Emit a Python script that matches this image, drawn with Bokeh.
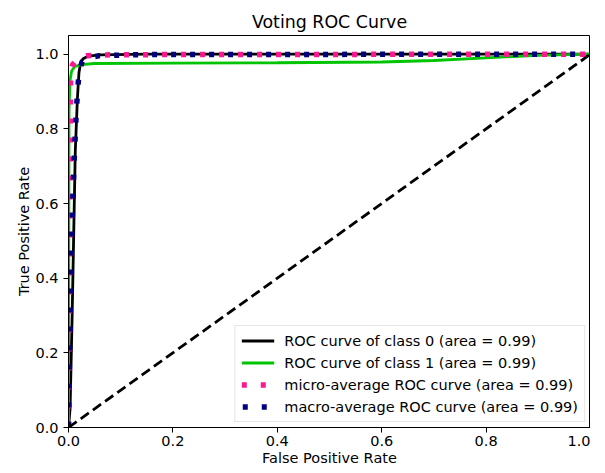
import numpy as np
from bokeh.plotting import figure
from bokeh.models import Range1d, FixedTicker, Legend, LegendItem
from bokeh.embed import file_html
from bokeh.resources import INLINE

# ---- data ----
class0_fpr = [0.0, 0.003, 0.007, 0.010, 0.013, 0.017, 0.020, 0.023, 0.028, 0.038, 0.06, 0.15, 1.0]
class0_tpr = [0.0, 0.05, 0.30, 0.52, 0.74, 0.88, 0.95, 0.975, 0.988, 0.995, 0.998, 1.0, 1.0]

class1_fpr = [0.0, 0.001, 0.003, 0.006, 0.012, 0.025, 0.05, 0.2, 0.4, 0.6, 0.7, 0.8, 0.9, 1.0]
class1_tpr = [0.0, 0.85, 0.93, 0.955, 0.967, 0.972, 0.975, 0.976, 0.977, 0.979, 0.983, 0.99, 0.997, 1.0]

micro_fpr = [0.0, 0.002, 0.004, 0.008, 0.014, 0.022, 0.035, 0.06, 0.2, 1.0]
micro_tpr = [0.0, 0.45, 0.955, 0.972, 0.982, 0.992, 0.996, 0.998, 0.999, 1.0]

macro_fpr = [0.0, 0.002, 0.005, 0.008, 0.011, 0.015, 0.019, 0.022, 0.026, 0.035, 0.06, 0.15, 1.0]
macro_tpr = [0.0, 0.20, 0.45, 0.60, 0.72, 0.85, 0.93, 0.96, 0.98, 0.99, 0.996, 0.999, 1.0]

chance_x = [0.0, 1.0]
chance_y = [0.0, 1.0]

labels = [
    "ROC curve of class 0 (area = 0.99)",
    "ROC curve of class 1 (area = 0.99)",
    "micro-average ROC curve (area = 0.99)",
    "macro-average ROC curve (area = 0.99)",
]

tick_values = [0.0, 0.2, 0.4, 0.6, 0.8, 1.0]
tick_labels = ["0.0", "0.2", "0.4", "0.6", "0.8", "1.0"]

FONT = "DejaVu Sans"
FW, FH = 522, 392
YMAX = 1.05

p = figure(
    frame_width=FW, frame_height=FH,
    output_backend="svg", toolbar_location=None,
    x_range=Range1d(0, 1.0), y_range=Range1d(0, YMAX),
    min_border_left=68, min_border_right=0,
    min_border_top=35, min_border_bottom=0,
    title="Voting ROC Curve",
)

p.title.align = "center"
p.title.text_font = FONT
p.title.text_font_size = "17.4px"
p.title.text_font_style = "normal"
p.title.text_color = "black"
p.title.standoff = 8

p.grid.visible = False
p.outline_line_color = "black"
p.outline_line_width = 1
p.background_fill_color = "white"
p.border_fill_color = "white"

for ax in (p.xaxis[0], p.yaxis[0]):
    ax.ticker = FixedTicker(ticks=tick_values)
    ax.major_label_overrides = {v: s for v, s in zip(tick_values, tick_labels)}
    ax.major_label_text_font = FONT
    ax.major_label_text_font_size = "14.5px"
    ax.major_label_text_color = "black"
    ax.axis_label_text_font = FONT
    ax.axis_label_text_font_size = "14.5px"
    ax.axis_label_text_font_style = "normal"
    ax.axis_label_text_color = "black"
    ax.major_tick_in = 0
    ax.major_tick_out = 5
    ax.minor_tick_in = 0
    ax.minor_tick_out = 0
    ax.axis_line_color = "black"
    ax.major_tick_line_color = "black"

p.xaxis.axis_label = "False Positive Rate"
p.yaxis.axis_label = "True Positive Rate"
p.xaxis.major_label_standoff = 3
p.yaxis.major_label_standoff = 5
p.xaxis.axis_label_standoff = 1
p.yaxis.axis_label_standoff = 0


def screen_length(xs, ys):
    sx = np.asarray(xs) * FW
    sy = np.asarray(ys) * FH / YMAX
    return float(np.hypot(np.diff(sx), np.diff(sy)).sum())


# put the navy dots half a period away from the pink ones (interleaved, as in the reference)
PERIOD = 19
diff = screen_length(macro_fpr, macro_tpr) - screen_length(micro_fpr, micro_tpr)
navy_offset = int(round(PERIOD / 2 - diff)) % PERIOD

r0 = p.line(class0_fpr, class0_tpr, line_color="black", line_width=2.8)
r1 = p.line(class1_fpr, class1_tpr, line_color="#00c400", line_width=2.8)
r2 = p.line(micro_fpr, micro_tpr, line_color="deeppink", line_width=5.5,
            line_dash="5 14")
r3 = p.line(macro_fpr, macro_tpr, line_color="navy", line_width=5.5,
            line_dash="5 14", line_dash_offset=navy_offset)
p.line(chance_x, chance_y, line_color="black", line_width=2.8, line_dash="10 5")

legend = Legend(
    items=[LegendItem(label=l, renderers=[r]) for l, r in zip(labels, [r0, r1, r2, r3])],
    location="bottom_right",
    margin=5,
    padding=6,
    spacing=5,
    glyph_width=33,
    glyph_height=17,
    label_height=17,
    label_standoff=10,
    label_text_font=FONT,
    label_text_font_size="14.5px",
    label_text_color="black",
    border_line_color="#cccccc",
    border_line_width=1,
    background_fill_color="white",
    background_fill_alpha=0.8,
)
p.add_layout(legend, "center")

open("out.html", "w").write(file_html(p, INLINE))
